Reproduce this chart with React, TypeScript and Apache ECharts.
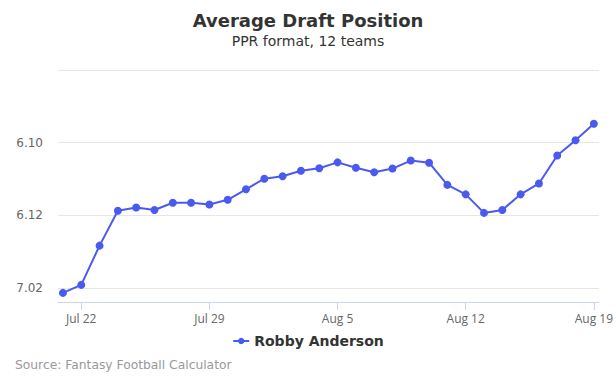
import React, { useEffect, useRef } from "react";
import * as echarts from "echarts";

const dates = [
  "Jul 21", "Jul 22", "Jul 23", "Jul 24", "Jul 25", "Jul 26", "Jul 27", "Jul 28", "Jul 29", "Jul 30",
  "Jul 31", "Aug 1", "Aug 2", "Aug 3", "Aug 4", "Aug 5", "Aug 6", "Aug 7", "Aug 8", "Aug 9",
  "Aug 10", "Aug 11", "Aug 12", "Aug 13", "Aug 14", "Aug 15", "Aug 16", "Aug 17", "Aug 18", "Aug 19",
];

// overall pick number (12-team league)
const adp = [
  74.13, 73.91, 72.83, 71.87, 71.78, 71.85, 71.65, 71.65, 71.7, 71.57,
  71.28, 70.99, 70.92, 70.77, 70.7, 70.54, 70.69, 70.81, 70.71, 70.49,
  70.55, 71.16, 71.42, 71.93, 71.85, 71.42, 71.12, 70.35, 69.93, 69.48,
];

const tickDates = ["Jul 22", "Jul 29", "Aug 5", "Aug 12", "Aug 19"];
const labelPicks = [70, 72, 74];
const seriesName = "Robby Anderson";
const teams = 12;

function fmtPick(p: number): string {
  const r = Math.floor((p - 1) / teams) + 1;
  const k = Math.round(((p - 1) % teams) + 1);
  return r + "." + (k < 10 ? "0" + k : String(k));
}

export default function App() {
  const ref = useRef<HTMLDivElement>(null);
  useEffect(() => {
    if (!ref.current) return;
    const chart = echarts.init(ref.current, undefined, { renderer: "svg" });
    const font = "DejaVu Sans";
    const labelFont = "Open Sans";
    const tickIdx = tickDates.map((d) => dates.indexOf(d));
    chart.setOption({
      animation: false,
      textStyle: { fontFamily: font },
      title: {
        text: "Average Draft Position",
        subtext: "PPR format, 12 teams",
        left: "center",
        top: 6,
        itemGap: 5,
        textStyle: { fontFamily: font, fontSize: 18, fontWeight: "bold", color: "#333333" },
        subtextStyle: { fontFamily: font, fontSize: 14, color: "#333333" },
      },
      legend: {
        top: 329,
        left: "center",
        itemWidth: 16,
        itemHeight: 8,
        textStyle: { fontFamily: font, fontSize: 14, fontWeight: "bold", color: "#333333" },
        data: [seriesName],
      },
      grid: { left: 58, right: 16, top: 70, bottom: 83, containLabel: false },
      xAxis: {
        type: "value",
        min: -0.27,
        max: 29.27,
        splitLine: { show: false },
        axisLine: { show: true, lineStyle: { color: "#ccd6eb" } },
        axisTick: { show: true, length: 8, customValues: tickIdx, lineStyle: { color: "#ccd6eb" } },
        axisLabel: {
          customValues: tickIdx,
          margin: 10,
          color: "#666666",
          fontSize: 12,
          fontFamily: labelFont,
          formatter: (v: number) => dates[Math.round(v)] ?? "",
        },
      },
      yAxis: {
        type: "value",
        inverse: true,
        min: 68,
        max: 74.38,
        interval: 2,
        axisLine: { show: false },
        axisTick: { show: false },
        splitLine: { show: true, lineStyle: { color: "#e6e6e6" } },
        axisLabel: {
          customValues: labelPicks,
          margin: 15,
          color: "#666666",
          fontSize: 12,
          fontFamily: font,
          formatter: (v: number) => (labelPicks.indexOf(v) >= 0 ? fmtPick(v) : ""),
        },
      },
      series: [
        {
          name: seriesName,
          type: "line",
          data: adp.map((v, i) => [i, v]),
          symbol: "circle",
          symbolSize: 8,
          lineStyle: { width: 2, color: "#4a5af0" },
          itemStyle: { color: "#4a5af0" },
        },
      ],
      graphic: [
        {
          type: "text",
          left: 15,
          top: 359,
          style: { text: "Source: Fantasy Football Calculator", fontSize: 12.3, fill: "#999999", fontFamily: font },
        },
      ],
    });
    return () => chart.dispose();
  }, []);
  return (
    <div
      ref={ref}
      style={{ position: "fixed", left: 0, top: 0, width: 616, height: 385, background: "#ffffff" }}
    />
  );
}
